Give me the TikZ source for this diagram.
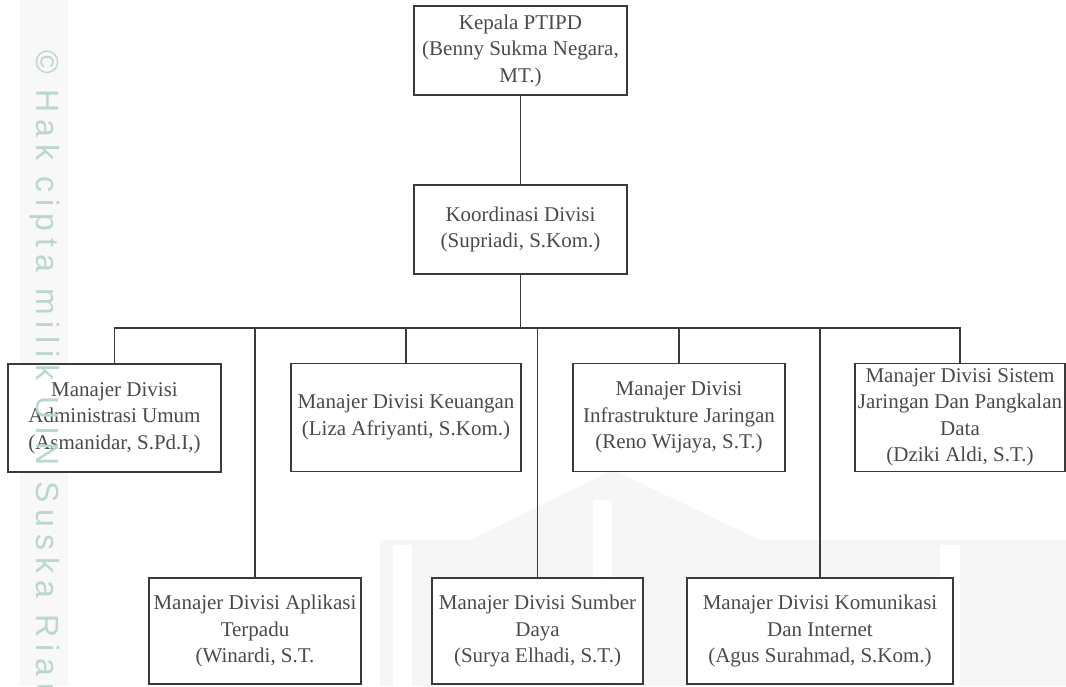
\documentclass[tikz,border=0pt]{standalone}
\usepackage{fontspec}
\setmainfont{Liberation Serif}
\newfontfamily\wmfont[LetterSpace=22]{Liberation Sans}
\definecolor{linec}{HTML}{3A3A3A}
\definecolor{txtc}{HTML}{4A4A4A}
\definecolor{wmc}{HTML}{B9D6CF}
\definecolor{logoc}{HTML}{F6F6F6}
\definecolor{stripc}{HTML}{F8F8F8}
\begin{document}
\begin{tikzpicture}[x=1pt,y=-1pt,
  orgbox/.style={draw=linec, line width=1.4pt, fill=white, align=center,
    inner sep=0pt, text=txtc, font=\fontsize{21}{26.5}\selectfont},
  link/.style={draw=linec, line width=1.4pt}]
\useasboundingbox (0,0) rectangle (1066,686);
% faint background watermark stripe and logo
\fill[stripc] (20,0) rectangle (68,686);
\fill[logoc] (380,540) rectangle (1066,686);
\fill[logoc] (470,540) -- (613,470) -- (760,540) -- cycle;
\fill[white] (393,545) rectangle (412,686);
\fill[white] (593,500) rectangle (612,686);
\fill[white] (940,545) rectangle (960,686);
% boxes
\node[orgbox, minimum width=213pt, minimum height=89pt] (kepala) at (520.5,50.5)
  {Kepala PTIPD\\(Benny Sukma Negara,\\MT.)};
\node[orgbox, minimum width=213pt, minimum height=89pt] (koor) at (520.5,229.5)
  {Koordinasi Divisi\\(Supriadi, S.Kom.)};
\node[orgbox, minimum width=213pt, minimum height=108pt] (admin) at (114.5,418)
  {Manajer Divisi\\Administrasi Umum\\(Asmanidar, S.Pd.I,)};
\node[orgbox, minimum width=230pt, minimum height=108pt] (keu) at (406,417.5)
  {Manajer Divisi Keuangan\\(Liza Afriyanti, S.Kom.)};
\node[orgbox, minimum width=212pt, minimum height=108pt] (infra) at (679,417.5)
  {Manajer Divisi\\Infrastrukture Jaringan\\(Reno Wijaya, S.T.)};
\node[orgbox, minimum width=210pt, minimum height=108pt] (sistem) at (960,417.5)
  {Manajer Divisi Sistem\\Jaringan Dan Pangkalan\\Data\\(Dziki Aldi, S.T.)};
\node[orgbox, minimum width=212pt, minimum height=106pt] (aplik) at (255,631)
  {Manajer Divisi Aplikasi\\Terpadu\\(Winardi, S.T.};
\node[orgbox, minimum width=211pt, minimum height=106pt] (sumber) at (537.5,631)
  {Manajer Divisi Sumber\\Daya\\(Surya Elhadi, S.T.)};
\node[orgbox, minimum width=266pt, minimum height=106pt] (komun) at (820,631)
  {Manajer Divisi Komunikasi\\Dan Internet\\(Agus Surahmad, S.Kom.)};
% connectors
\coordinate (bus) at (520.5,328);
\draw[link] (kepala.south) -- (koor.south |- kepala.south) -- (koor.north);
\foreach \c in {admin,keu,infra,sistem,aplik,sumber,komun}{
  \draw[link] (koor.south) -- (bus) -| (\c.north);
}
% watermark text on top
\node[anchor=base west, rotate=-90, text=wmc, font=\wmfont\fontsize{32}{32}\selectfont, inner sep=0pt]
  (wm) at (36,50) {© Hak cipta milik UIN Suska Riau};
\end{tikzpicture}
\end{document}
